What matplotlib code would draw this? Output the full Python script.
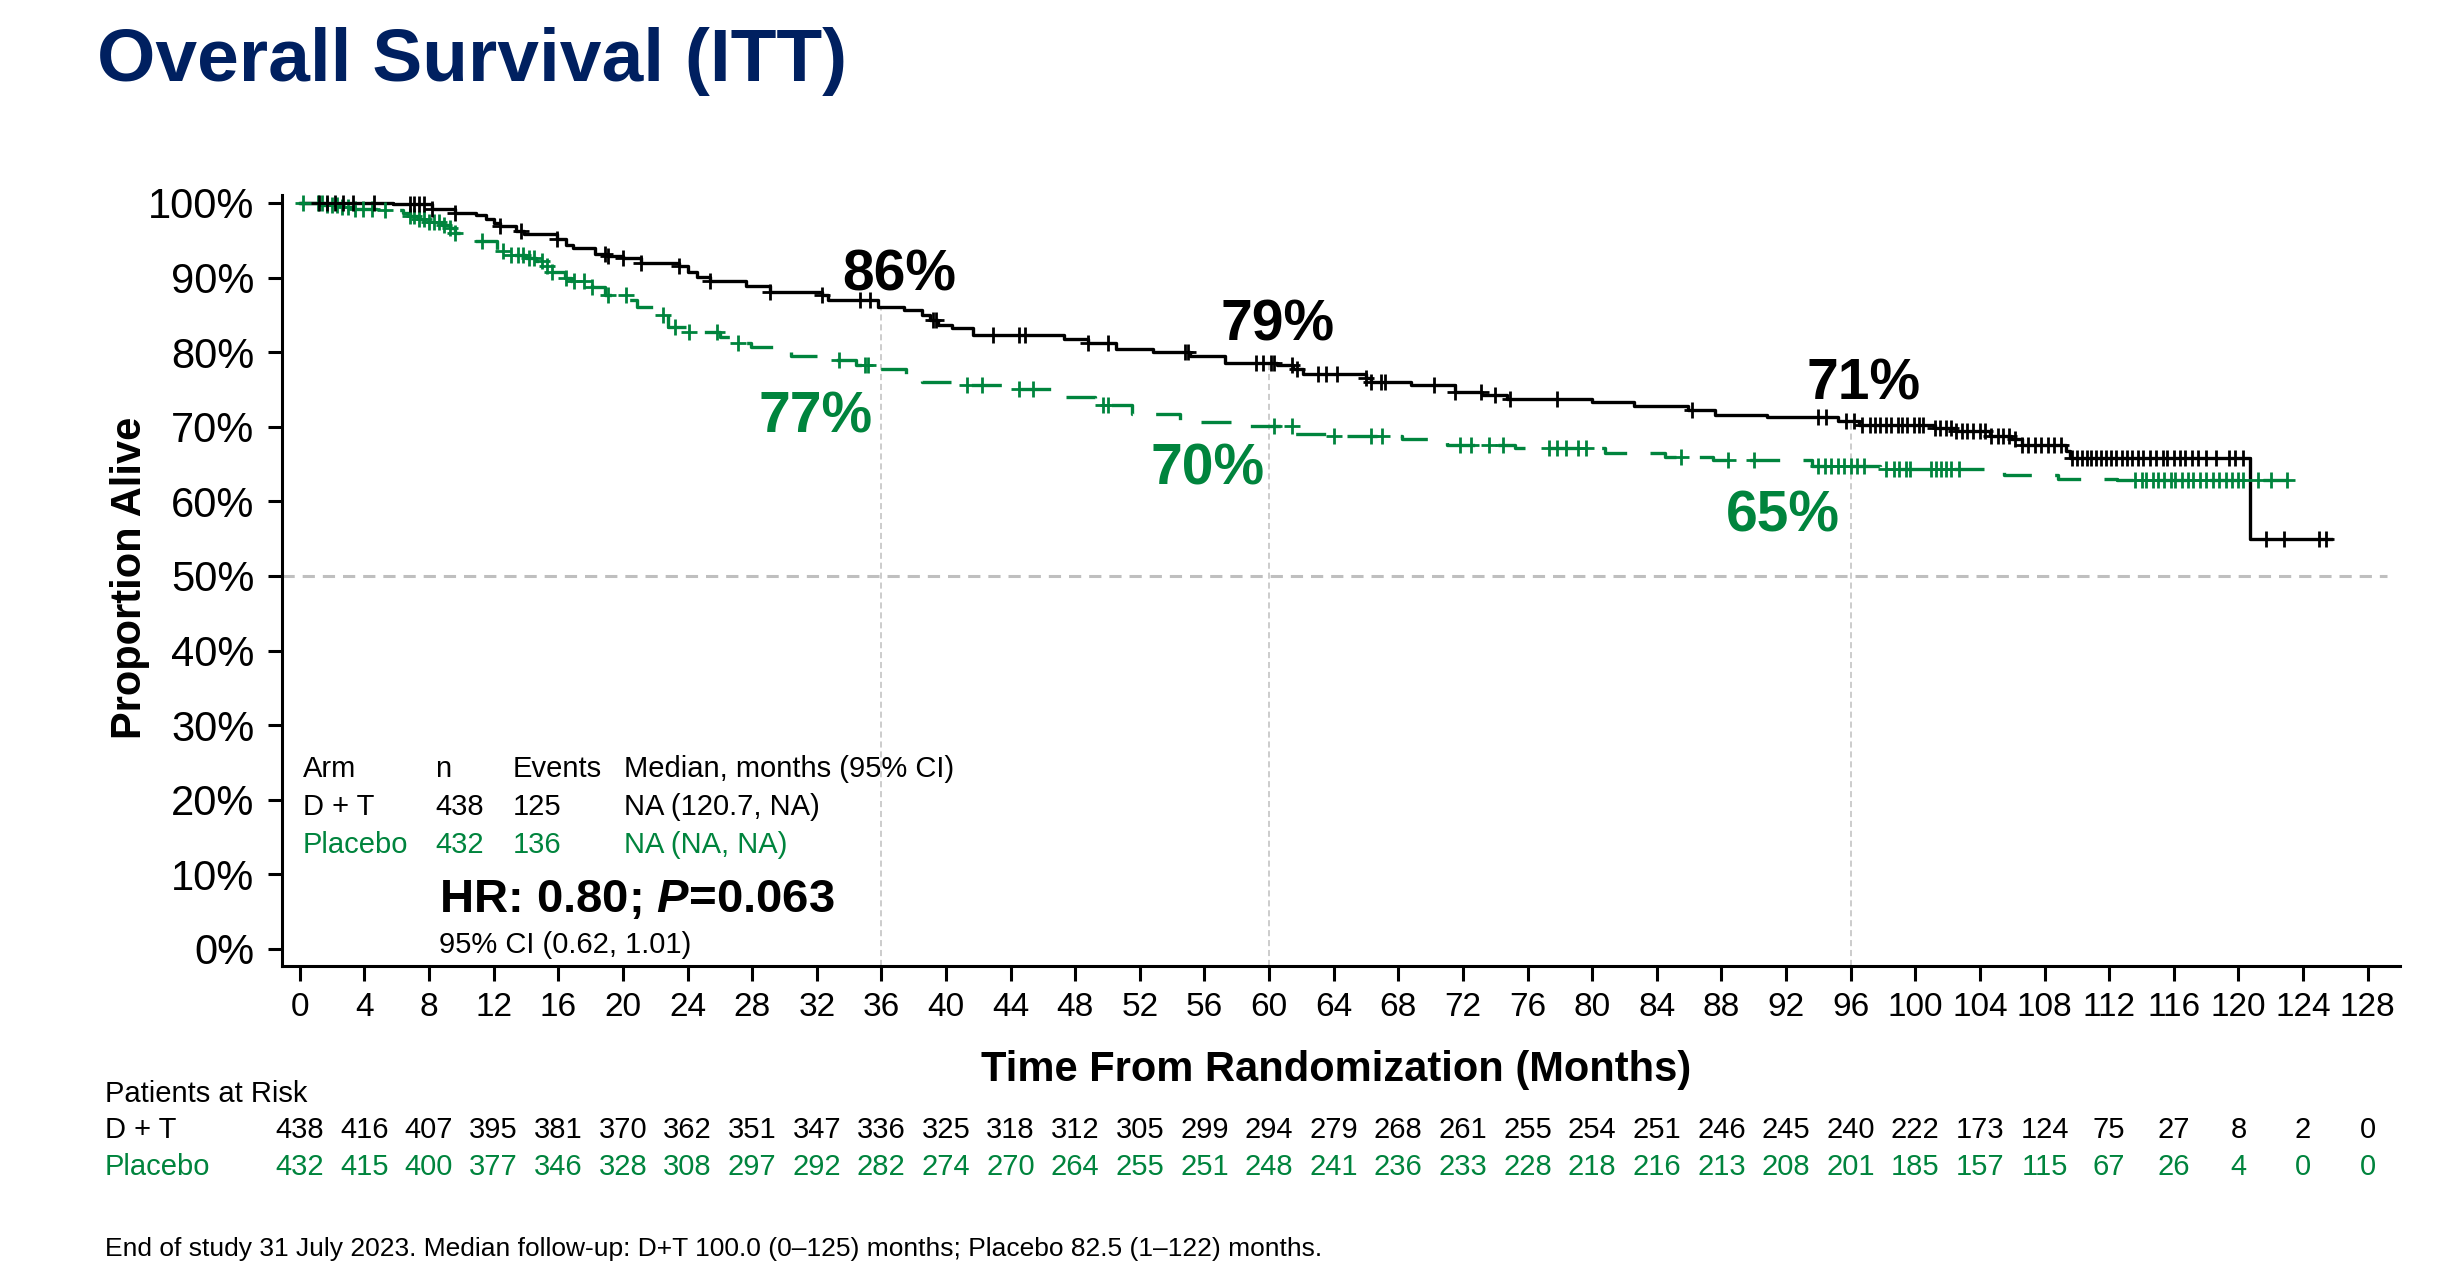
import numpy as np
import matplotlib
matplotlib.use('Agg')
import matplotlib.pyplot as plt

plt.rcParams['font.family'] = ['Liberation Sans', 'DejaVu Sans']
plt.rcParams['mathtext.fontset'] = 'custom'
plt.rcParams['mathtext.bfit'] = 'Liberation Sans:italic:bold'
plt.rcParams['mathtext.rm'] = 'Liberation Sans:bold'

# Kaplan-Meier steps (months, % alive)
dt_time = [0, 5.8, 8.2, 9.6, 10.9, 11.5, 12.0, 12.4, 13.4, 13.9, 15.9, 16.5, 16.9, 18.3, 19.1,
           20.0, 21.1, 23.5, 24.0, 24.6, 25.4, 27.6, 29.1, 32.3, 32.7, 35.8, 37.4, 38.5, 39.0, 39.5,
           40.4, 41.7, 47.3, 48.8, 50.5, 52.8, 55.1, 57.3, 60.5, 61.5, 62.1, 66.0, 66.3, 68.8, 71.5,
           73.2, 74.7, 80.0, 82.6, 85.9, 87.6, 90.8, 95.2, 96.5, 101.2, 102.5, 104.6, 105.9, 106.6, 109.3,
           109.6, 120.7]
dt_surv = [100, 99.8, 99.2, 98.7, 98.4, 97.8, 97.3, 96.9, 96.3, 95.9, 95.2, 94.4, 93.9, 93.2, 92.9,
           92.6, 92.0, 91.6, 90.8, 90.1, 89.5, 88.9, 88.1, 87.6, 87.0, 86.0, 85.6, 85.0, 84.3, 83.6,
           83.2, 82.3, 81.8, 81.2, 80.4, 80.0, 79.5, 78.6, 78.3, 77.8, 77.1, 76.5, 76.0, 75.6, 74.7,
           74.2, 73.7, 73.3, 72.8, 72.2, 71.6, 71.25, 70.8, 70.3, 69.8, 69.4, 68.8, 68.3, 67.6, 66.7,
           65.8, 55.0]
dt_end = 125.7
dt_censor = [1.2, 1.7, 2.2, 2.7, 3.3, 4.6, 6.8, 7.1, 7.4, 7.7, 8.2, 9.6, 12.4, 13.7, 15.9, 18.9, 19.1,
             20.0, 21.1, 23.5, 25.4, 29.1, 32.3, 34.7, 35.3, 39.2, 39.4, 42.9, 44.5, 44.9, 48.8, 50.0,
             54.8, 55.0, 59.2, 59.6, 60.1, 60.3, 61.4, 61.7, 63.0, 63.5, 64.2, 66.0, 66.3, 66.9, 67.2,
             70.2, 71.5, 73.1, 74.0, 74.9, 77.8, 86.2, 94.0, 94.5, 95.7, 96.2, 96.7, 97.2, 97.5, 97.8,
             98.2, 98.5, 98.9, 99.2, 99.5, 99.9, 100.2, 100.5, 101.2, 101.5, 101.9, 102.2, 102.5, 102.9,
             103.2, 103.6, 104.0, 104.3, 104.7, 105.1, 105.4, 105.8, 106.2, 106.6, 107.0, 107.4, 107.8,
             108.2, 108.6, 109.0, 109.7, 110.0, 110.3, 110.6, 110.9, 111.2, 111.5, 111.8, 112.1, 112.4,
             112.8, 113.1, 113.4, 113.8, 114.1, 114.5, 114.9, 115.3, 115.6, 116.0, 116.4, 116.7, 117.1,
             117.5, 118.0, 118.6, 119.4, 119.8, 120.3, 121.7, 122.8, 125.0, 125.4]

pl_time = [0, 1.5, 2.5, 3.3, 4.9, 6.4, 6.8, 7.4, 8.0, 8.8, 9.3, 9.6, 10.4, 12.2, 12.7, 14.0, 14.6,
           15.3, 15.6, 16.4, 16.8, 18.1, 18.9, 20.3, 20.9, 22.3, 22.8, 24.1, 26.0, 27.1, 27.9, 29.9,
           30.4, 32.4, 34.4, 35.8, 37.5, 38.5, 40.5, 43.5, 47.0, 49.2, 51.5, 54.5, 57.8, 61.6, 63.5,
           68.2, 71.0, 75.2, 80.8, 84.5, 87.5, 93.6, 97.8, 105.5, 108.8, 112.5]
pl_surv = [100, 99.7, 99.5, 99.2, 99.0, 98.7, 98.2, 97.8, 97.4, 97.1, 96.6, 96.0, 94.9, 93.5, 93.0,
           92.6, 92.2, 91.5, 90.8, 89.9, 89.5, 88.8, 87.7, 87.0, 86.0, 85.0, 83.4, 82.7, 82.1, 81.2,
           80.7, 80.0, 79.5, 79.0, 78.3, 77.7, 76.8, 76.0, 75.6, 75.0, 74.0, 72.9, 71.7, 70.7, 70.1,
           69.0, 68.75, 68.4, 67.5, 67.1, 66.5, 66.0, 65.6, 64.7, 64.3, 63.5, 63.0, 62.9]
pl_end = 123.0
pl_censor = [0.2, 1.1, 1.4, 1.7, 2.0, 2.3, 2.6, 3.0, 3.4, 3.9, 4.5, 5.3, 6.8, 7.1, 7.4, 7.7, 8.0, 8.3,
             8.6, 8.9, 9.3, 9.6, 11.3, 12.6, 13.1, 13.5, 13.8, 14.2, 14.5, 15.0, 15.3, 15.6, 16.5, 17.0,
             17.6, 18.1, 19.1, 20.2, 22.5, 23.2, 24.1, 25.8, 27.1, 33.4, 35.0, 35.2, 41.3, 42.2, 44.5,
             45.4, 49.7, 50.0, 60.3, 61.4, 64.0, 66.3, 67.0, 71.8, 72.5, 73.6, 74.5, 77.3, 77.8, 78.4,
             79.1, 79.6, 85.5, 88.4, 90.0, 94.0, 94.4, 94.8, 95.2, 95.6, 96.0, 96.4, 96.8, 98.2, 98.7,
             99.0, 99.4, 99.7, 101.0, 101.3, 101.6, 101.9, 102.2, 102.7, 113.6, 114.0, 114.3, 114.7,
             115.0, 115.4, 115.8, 116.1, 116.5, 116.9, 117.2, 117.6, 118.0, 118.4, 118.8, 119.2, 119.6,
             120.0, 120.3, 121.2, 122.0, 123.0]

# landmark survival labels
landmarks = [36, 60, 96]
dt_landmark_lbl = ['86%', '79%', '71%']
pl_landmark_lbl = ['77%', '70%', '65%']

# patients at risk
risk_times = list(range(0, 129, 4))
dt_risk = [438, 416, 407, 395, 381, 370, 362, 351, 347, 336, 325, 318, 312, 305, 299, 294, 279,
           268, 261, 255, 254, 251, 246, 245, 240, 222, 173, 124, 75, 27, 8, 2, 0]
pl_risk = [432, 415, 400, 377, 346, 328, 308, 297, 292, 282, 274, 270, 264, 255, 251, 248, 241,
           236, 233, 228, 218, 216, 213, 208, 201, 185, 157, 115, 67, 26, 4, 0, 0]

BLACK = '#000000'
GREEN = '#00843D'
NAVY = '#002060'
GREY = '#BFBFBF'

W, H = 2447, 1273
fig = plt.figure(figsize=(W / 100, H / 100), dpi=100)


def fx(px):
    return px / W


def fy(py):
    return 1 - py / H


ax = fig.add_axes([fx(282), fy(966), fx(2400) - fx(282), fy(195) - fy(966)])
ax.set_xlim(-1.1, 130)
ax.set_ylim(-2.28, 101.07)


def surv_at(times, surv, t):
    idx = np.searchsorted(times, t, side='right') - 1
    return np.asarray(surv)[idx]


# reference lines
ax.plot([-1.1, 129.2], [50, 50], color=GREY, lw=2.2, dashes=(4, 2.6), zorder=1)
for t in landmarks:
    ax.plot([t, t], [-2.28, surv_at(dt_time, dt_surv, t)], color=GREY, lw=1.1,
            dashes=(4, 2.5), zorder=1)

# curves
ax.step(dt_time + [dt_end], dt_surv + [dt_surv[-1]], where='post', color=BLACK, lw=2.4, zorder=3)
ax.step(pl_time + [pl_end], pl_surv + [pl_surv[-1]], where='post', color=GREEN, lw=2.4,
        linestyle=(0, (9.0, 7.0)), zorder=2)
ax.plot(dt_censor, surv_at(dt_time, dt_surv, dt_censor), ls='none', marker='+', ms=11, mew=2.0,
        color=BLACK, zorder=4)
ax.plot(pl_censor, surv_at(pl_time, pl_surv, pl_censor), ls='none', marker='+', ms=11, mew=2.0,
        color=GREEN, zorder=3)

# landmark labels
dt_lbl_pos = [(37.1, 88.3), (60.5, 81.5), (96.8, 73.6)]
pl_lbl_pos = [(31.9, 69.2), (56.2, 62.2), (91.8, 55.9)]
for (x, y), s in zip(dt_lbl_pos, dt_landmark_lbl):
    ax.text(x, y, s, ha='center', va='baseline', fontsize=41, fontweight='bold', color=BLACK)
for (x, y), s in zip(pl_lbl_pos, pl_landmark_lbl):
    ax.text(x, y, s, ha='center', va='baseline', fontsize=41, fontweight='bold', color=GREEN)

# axes styling
for side in ['top', 'right']:
    ax.spines[side].set_visible(False)
for side in ['left', 'bottom']:
    ax.spines[side].set_linewidth(2.2)
ax.set_yticks(range(0, 101, 10))
ax.set_yticklabels([f'{v}%' for v in range(0, 101, 10)])
ax.set_xticks(risk_times)
ax.tick_params(axis='y', direction='out', length=10, width=2.2, labelsize=30, pad=10)
ax.tick_params(axis='x', direction='out', length=11, width=2.2, labelsize=24, pad=8)

# summary table inside plot
cols_x = [0.2, 8.4, 13.2, 20.1]
rows = [
    (['Arm', 'n', 'Events', 'Median, months (95% CI)'], BLACK, 23.1),
    (['D + T', '438', '125', 'NA (120.7, NA)'], BLACK, 18.0),
    (['Placebo', '432', '136', 'NA (NA, NA)'], GREEN, 12.9),
]
for cells, col, y in rows:
    for x, s in zip(cols_x, cells):
        ax.text(x, y, s, fontsize=21, color=col, va='baseline', ha='left')
ax.text(8.6, 5.0, r'HR: 0.80; $\mathbfit{P}$=0.063', fontsize=34, fontweight='bold',
        va='baseline', ha='left')
ax.text(8.6, -0.5, '95% CI (0.62, 1.01)', fontsize=21, va='baseline', ha='left')

# titles and axis labels
fig.text(fx(97), fy(81), 'Overall Survival (ITT)', fontsize=54, fontweight='bold', color=NAVY,
         va='baseline', ha='left')
fig.text(fx(130), fy(578), 'Proportion Alive', fontsize=30, fontweight='bold', rotation=90,
         va='center', ha='center')
fig.text(fx(1336), fy(1081), 'Time From Randomization (Months)', fontsize=30, fontweight='bold',
         va='baseline', ha='center')

# patients at risk
fig.text(fx(105), fy(1102), 'Patients at Risk', fontsize=21, va='baseline', ha='left')
fig.text(fx(105), fy(1138), 'D + T', fontsize=21, va='baseline', ha='left')
fig.text(fx(105), fy(1175), 'Placebo', fontsize=21, va='baseline', ha='left', color=GREEN)
for t, a, b in zip(risk_times, dt_risk, pl_risk):
    x_fig = fig.transFigure.inverted().transform(ax.transData.transform((t, 0)))[0]
    fig.text(x_fig, fy(1138), str(a), fontsize=21, va='baseline', ha='center', color=BLACK)
    fig.text(x_fig, fy(1175), str(b), fontsize=21, va='baseline', ha='center', color=GREEN)

fig.text(fx(105), fy(1256),
         'End of study 31 July 2023. Median follow-up: D+T 100.0 (0\u2013125) months; '
         'Placebo 82.5 (1\u2013122) months.', fontsize=19, va='baseline', ha='left')

fig.savefig('out.png', dpi=100)
